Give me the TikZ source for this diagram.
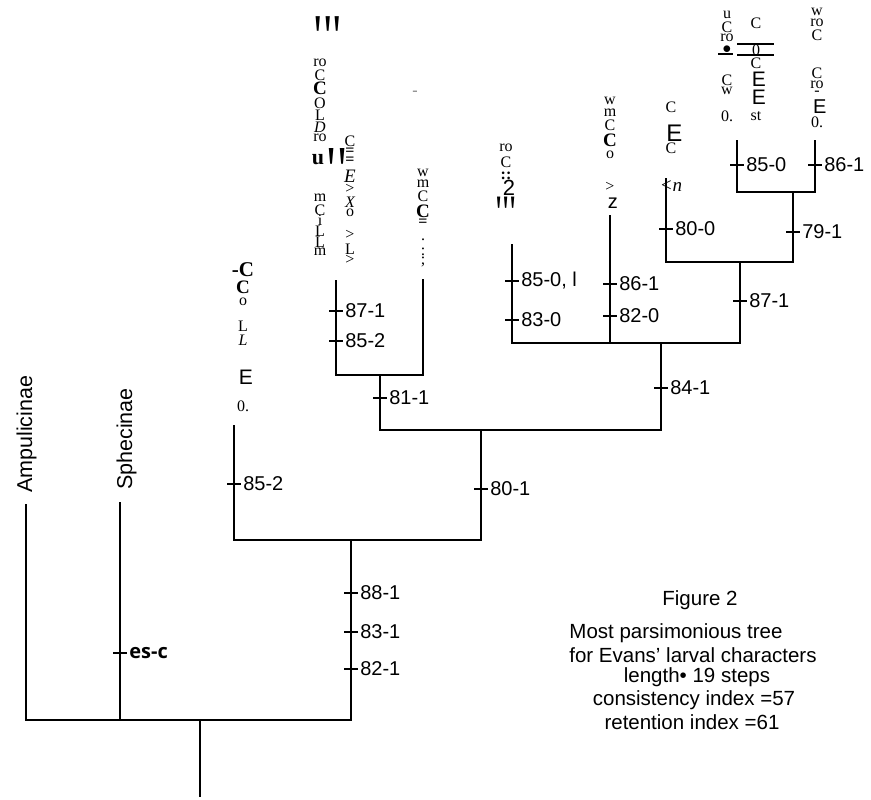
\documentclass[tikz,border=0pt]{standalone}
\usepackage{fontspec}
\setmainfont{Liberation Serif}
\setsansfont{Liberation Sans}
\newfontfamily\escfont{Open Sans}
\newfontfamily\wedgefont[Ligatures=TeXOff]{Liberation Serif}

\tikzset{
  branch/.style={line width=2.6pt},
  tk/.style={line width=2.6pt},
  chr/.style={right,inner sep=1pt,font=\sffamily\fontsize{20}{22}\selectfont},
  taxon/.style={rotate=90,anchor=base west,inner sep=0pt,font=\sffamily\fontsize{21.5}{23}\selectfont},
  glyph/.style={inner sep=0pt,font=\fontsize{16}{16}\selectfont},
  wedges/.style={inner sep=0pt,anchor=north},
  capt/.style={inner sep=0pt,font=\sffamily\fontsize{20.5}{22}\selectfont}
}
\newcommand{\wdg}[1]{\scalebox{1.3}[2.4]{\wedgefont\bfseries\fontsize{#1}{#1}\selectfont'}}
\newcommand{\sfbig}[1]{\sffamily\fontsize{#1}{#1}\selectfont}

\begin{document}
\begin{tikzpicture}[x=1pt,y=-1pt]
  \useasboundingbox (0,0) rectangle (871,800);
  % tree points
  \coordinate (root) at (200,797);
  \coordinate (n1) at (200,720);
  \coordinate (amp) at (26,504);
  \coordinate (sph) at (120,502);
  \coordinate (n2) at (351,540);
  \coordinate (tA) at (234,425);
  \coordinate (n3) at (481,430);
  \coordinate (n4) at (380,375);
  \coordinate (tB) at (336,280);
  \coordinate (tD) at (423,279);
  \coordinate (n5) at (661,343);
  \coordinate (tE) at (512,244);
  \coordinate (tF) at (610,215);
  \coordinate (n6) at (740,262);
  \coordinate (tG) at (666,178);
  \coordinate (n7) at (793,192);
  \coordinate (tH) at (737,140);
  \coordinate (tI) at (815,140);

  \draw[branch] (n1) -- (root);
  \draw[branch] (amp) |- (n1);
  \draw[branch] (sph) -- (sph |- n1);
  \draw[branch] (n2) |- (n1);
  \draw[branch] (tA) |- (n2);
  \draw[branch] (n3) |- (n2);
  \draw[branch] (n4) |- (n3);
  \draw[branch] (n5) |- (n3);
  \draw[branch] (tB) |- (n4);
  \draw[branch] (tD) |- (n4);
  \draw[branch] (tE) |- (n5);
  \draw[branch] (tF) -- (tF |- n5);
  \draw[branch] (n6) |- (n5);
  \draw[branch] (tG) |- (n6);
  \draw[branch] (n7) |- (n6);
  \draw[branch] (tH) |- (n7);
  \draw[branch] (tI) |- (n7);

  % character changes
  \foreach \x/\y/\t [count=\i] in {351/593/88-1, 351/632/83-1, 351/669/82-1,
      234/484/85-2, 481/489/80-1, 380/398/81-1, 336/311/87-1, 336/341/85-2,
      661/388/84-1, 512/281/{85-0, l}, 512/320/83-0, 610/284/86-1, 610/316/82-0,
      740/301/87-1, 666/229/80-0, 793/232/79-1, 737/165/85-0, 815/165/86-1}
    \draw[tk] (\x-7,\y) -- (\x+7,\y) node[chr] (c\i) {\t};
  \draw[tk] (113,653) -- (127,653)
    node[chr,font=\escfont\bfseries\fontsize{20}{22}\selectfont] (esc) {es-c};

  % taxa
  \node[taxon] (ampl) at (32,493) {Ampulicinae};
  \node[taxon] (sphl) at (132,490) {Sphecinae};

  % scanned names
  \foreach \g/\y [count=\i] in {{\bfseries\fontsize{21}{21}\selectfont -C}/270,
      {\bfseries\fontsize{19}{19}\selectfont C}/287, o/302, L/326,
      {\itshape L}/340, {\sfbig{21} E}/377, 0./406}
    \node[glyph] (ga\i) at (243,\y) {\g};
  \node[wedges] (gb0) at (328,16) {\wdg{26}\wdg{26}\wdg{26}};
  \foreach \g/\y [count=\i] in {ro/63, C/75, {\bfseries\fontsize{19}{19}\selectfont C}/88,
      O/103, L/115, {\itshape D}/127, ro/138, m/198, C/210, i/220, L/231, L/242, m/252}
    \node[glyph] (gb\i) at (320,\y) {\g};
  \node[glyph,font=\bfseries\fontsize{22}{22}\selectfont] (gbu) at (318,160) {u};
  \node[wedges] (gbw) at (337,148) {\wdg{28}\wdg{28}};
  \foreach \g/\y [count=\i] in {C/141, {\bfseries =}/152, {\bfseries =}/161, {\itshape\fontsize{19}{19}\selectfont E}/176,
      >/189, {\itshape X}/202, o/213, >/235, L/249, >/260}
    \node[glyph] (gc\i) at (350,\y) {\g};
  \node[glyph,text=gray] (gd0) at (415,93) {-};
  \foreach \g/\y [count=\i] in {w/173, m/184, C/196, {\bfseries\fontsize{19}{19}\selectfont C}/211,
      {\bfseries =}/223, ./240, :/252, {;}/262}
    \node[glyph] (gd\i) at (423,\y) {\g};
  \foreach \g/\y [count=\i] in {ro/148, C/162, {\bfseries ::}/176, {\sfbig{22} 2}/188}
    \node[glyph] (ge\i) at (506,\y) {\g};
  \node[wedges] (gew) at (506,197) {\wdg{20}\wdg{20}\wdg{20}};
  \foreach \g/\y [count=\i] in {w/101, m/113, C/125, {\bfseries\fontsize{19}{19}\selectfont C}/140,
      o/155, >/187, {\sfbig{20} z}/203}
    \node[glyph] (gf\i) at (610,\y) {\g};
  \foreach \g/\y [count=\i] in {C/107, {\sfbig{24} E}/133, C/148,
      {\itshape\fontsize{19}{19}\selectfont <n}/186}
    \node[glyph] (gg\i) at (671,\y) {\g};
  \foreach \g/\y [count=\i] in {u/15, C/27, ro/38, $\bullet$/50, C/80, w/91, 0./116}
    \node[glyph] (gh\i) at (727,\y) {\g};
  \draw[line width=1.2pt] (718,54) -- (733,54);
  \foreach \g/\y [count=\i] in {C/23, 0/50, C/63, {\sfbig{21} E}/79,
      {\sfbig{21} E}/97, st/116}
    \node[glyph] (gk\i) at (756,\y) {\g};
  \draw[line width=2.4pt] (737,44) -- (774,44);
  \draw[line width=2.4pt] (737,55) -- (774,55);
  \foreach \g/\y [count=\i] in {w/12, ro/23, C/35, C/73, ro/85, -/93,
      {\sfbig{20} E}/107, 0./122}
    \node[glyph] (gi\i) at (817,\y) {\g};

  % caption
  \node[capt] (fig) at (700,600) {Figure 2};
  \node[capt] (cap1) at (676,633) {Most parsimonious tree};
  \node[capt] (cap2) at (693,655) {for Evans' larval characters};
  \node[capt] (cap3) at (697,677) {length\textbullet\ 19 steps};
  \node[capt] (cap4) at (694,700) {consistency index =57};
  \node[capt] (cap5) at (692,722) {retention index =61};
\end{tikzpicture}
\end{document}
